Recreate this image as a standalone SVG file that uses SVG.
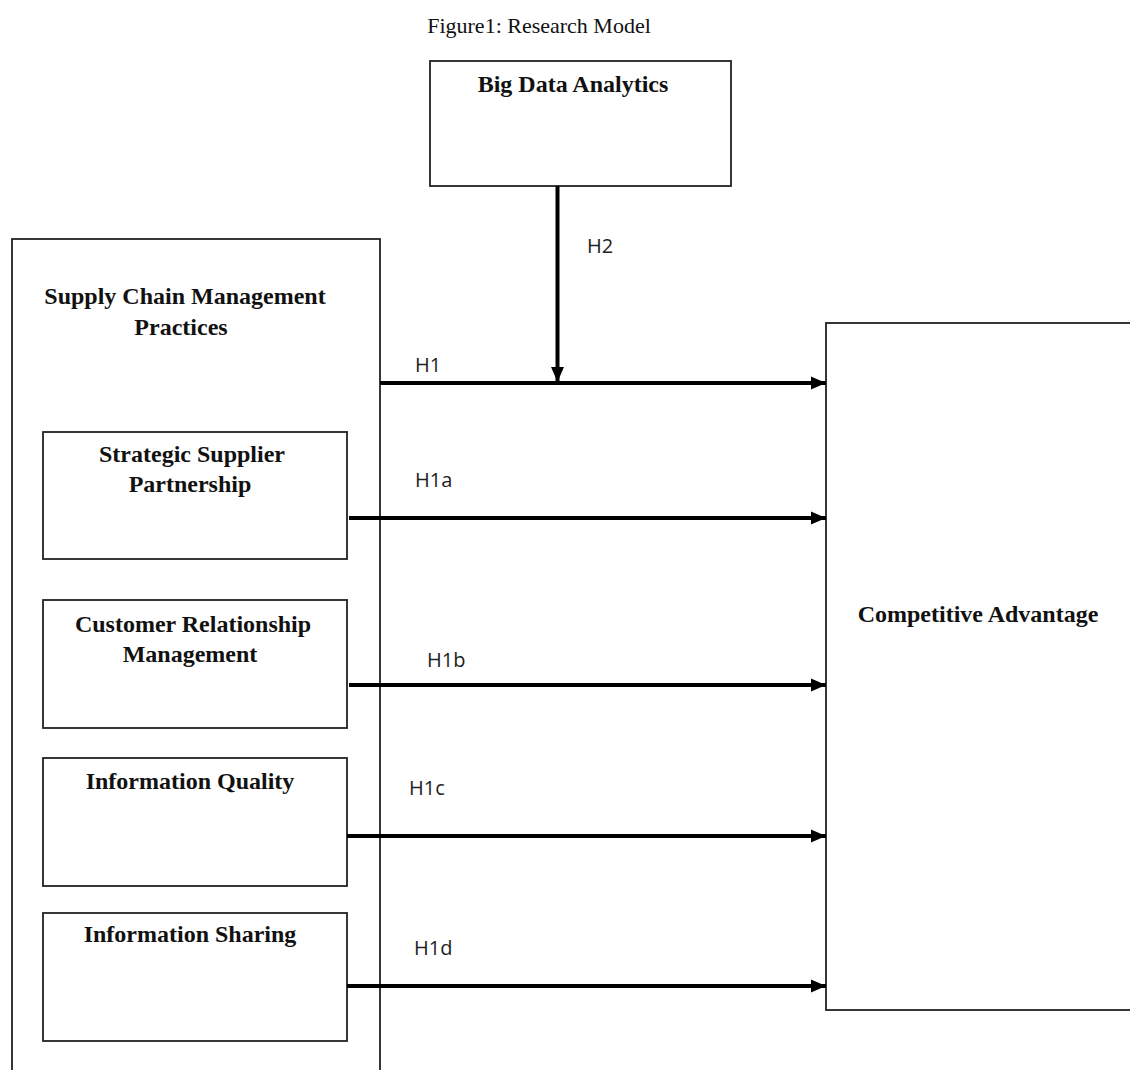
<svg xmlns="http://www.w3.org/2000/svg" width="1130" height="1070" viewBox="0 0 1130 1070">
<defs>
<style>
.box{fill:#fff;stroke:#222;stroke-width:1.8}
.t{font-family:"Liberation Serif","Times New Roman",serif;font-weight:bold;font-size:24px;fill:#111;text-anchor:middle}
.title{font-family:"Liberation Serif","Times New Roman",serif;font-size:22px;fill:#111;text-anchor:middle}
.h{font-family:"Open Sans","Liberation Sans",sans-serif;font-size:20px;fill:#222}
.c{stroke:#000;stroke-width:4;fill:none}
</style>
<marker id="ah" viewBox="0 0 10 10" refX="10" refY="5" markerWidth="3.75" markerHeight="3.75" markerUnits="strokeWidth" orient="auto">
<path d="M0,0.7 L10,5 L0,9.3 z" fill="#000"/>
</marker>
</defs>
<rect width="1130" height="1070" fill="#fff"/>
<text class="title" x="539" y="33">Figure1: Research Model</text>
<g id="bda">
<rect class="box" x="430" y="61" width="301" height="125"/>
<text class="t" x="573" y="92">Big Data Analytics</text>
</g>
<g id="scm">
<rect class="box" x="12" y="239" width="368" height="840"/>
<text class="t" x="185" y="304">Supply Chain Management</text>
<text class="t" x="181" y="335">Practices</text>
</g>
<g id="ssp">
<rect class="box" x="43" y="432" width="304" height="127"/>
<text class="t" x="192" y="462">Strategic Supplier</text>
<text class="t" x="190" y="492">Partnership</text>
</g>
<g id="crm">
<rect class="box" x="43" y="600" width="304" height="128"/>
<text class="t" x="193" y="632">Customer Relationship</text>
<text class="t" x="190" y="662">Management</text>
</g>
<g id="iq">
<rect class="box" x="43" y="758" width="304" height="128"/>
<text class="t" x="190" y="789">Information Quality</text>
</g>
<g id="is">
<rect class="box" x="43" y="913" width="304" height="128"/>
<text class="t" x="190" y="942">Information Sharing</text>
</g>
<g id="ca">
<rect class="box" x="826" y="323" width="310" height="687"/>
<text class="t" x="978" y="622">Competitive Advantage</text>
</g>
<g id="connectors">
<line class="c" x1="557.5" y1="186" x2="557.5" y2="382" marker-end="url(#ah)"/>
<line class="c" x1="380" y1="383" x2="826" y2="383" marker-end="url(#ah)"/>
<line class="c" x1="349" y1="518" x2="826" y2="518" marker-end="url(#ah)"/>
<line class="c" x1="349" y1="685" x2="826" y2="685" marker-end="url(#ah)"/>
<line class="c" x1="347" y1="836" x2="826" y2="836" marker-end="url(#ah)"/>
<line class="c" x1="347" y1="986" x2="826" y2="986" marker-end="url(#ah)"/>
<text class="h" x="587" y="253">H2</text>
<text class="h" x="415" y="372">H1</text>
<text class="h" x="415" y="487">H1a</text>
<text class="h" x="427" y="667">H1b</text>
<text class="h" x="409" y="795">H1c</text>
<text class="h" x="414" y="955">H1d</text>
</g>
</svg>
